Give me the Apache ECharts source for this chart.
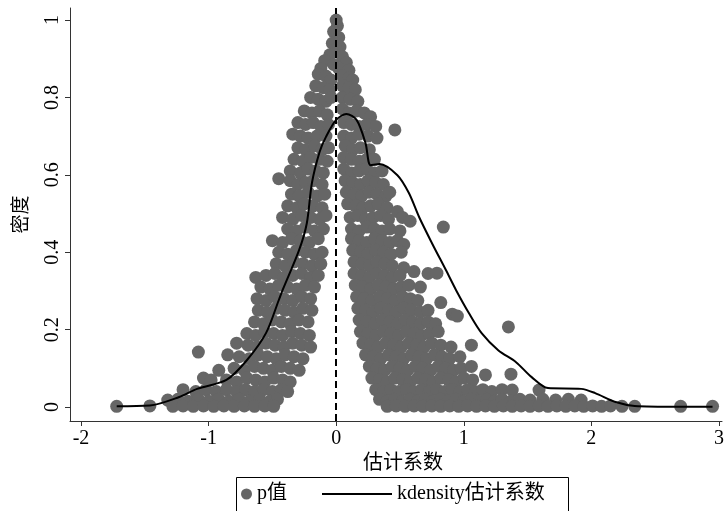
<!DOCTYPE html>
<html>
<head>
<meta charset="utf-8">
<script src="https://cdn.jsdelivr.net/npm/echarts@6/dist/echarts.min.js"></script>
<style>
  html, body { margin: 0; padding: 0; background: #fff; }
  #chart { width: 727px; height: 511px; }
</style>
</head>
<body>
<div id="chart"></div>
<script>
// 刻度
var xTicks = [-2, -1, 0, 1, 2, 3];
var yTicks = [0, 0.2, 0.4, 0.6, 0.8, 1];

// kdensity 估计系数 曲线
var densityX = [-1.72, -1.46, -1.23, -1.09, -0.86, -0.70, -0.55, -0.45, -0.42, -0.29, -0.23, -0.19, -0.13, -0.08, 0, 0.08, 0.16, 0.23, 0.27, 0.34, 0.48, 0.57, 0.65, 0.75, 0.86, 0.94, 1.04, 1.14, 1.27, 1.41, 1.53, 1.66, 1.92, 2.03, 2.19, 2.34, 2.68, 2.95];
var densityY = [0.002, 0.004, 0.026, 0.047, 0.070, 0.121, 0.191, 0.276, 0.302, 0.406, 0.475, 0.579, 0.659, 0.698, 0.742, 0.757, 0.742, 0.682, 0.625, 0.628, 0.599, 0.553, 0.491, 0.424, 0.354, 0.302, 0.243, 0.191, 0.147, 0.116, 0.078, 0.049, 0.047, 0.036, 0.013, 0.003, 0.001, 0.001];

// p值: 峰顶
var pointsTop = [
  [0.00,1.00],[0.01,0.985],[-0.02,0.97],[0.02,0.955],[-0.03,0.94],[0.03,0.93],[0.00,0.925],[-0.05,0.91],[0.05,0.905],
  [-0.09,0.895],[0.08,0.89],[-0.02,0.885],[0.02,0.875],[-0.12,0.875],[0.10,0.87]
];

// p值: 左侧 (系数 < 0)
var pointsLeft = [
  [-0.14,0.86],[-0.08,0.855],[-0.04,0.845],
  [-0.16,0.83],[-0.10,0.825],[-0.05,0.82],
  [-0.20,0.80],[-0.14,0.795],[-0.08,0.79],[-0.04,0.80],
  [-0.25,0.765],[-0.19,0.76],[-0.13,0.765],[-0.07,0.755],
  [-0.30,0.735],[-0.24,0.73],[-0.18,0.735],[-0.12,0.725],[-0.06,0.73],
  [-0.34,0.705],[-0.28,0.70],[-0.22,0.695],[-0.15,0.70],[-0.08,0.70],
  [-0.30,0.67],[-0.24,0.665],[-0.17,0.675],[-0.11,0.665],[-0.06,0.67],
  [-0.33,0.64],[-0.26,0.635],[-0.20,0.645],[-0.13,0.64],[-0.07,0.635],
  [-0.36,0.61],[-0.28,0.605],[-0.22,0.615],[-0.16,0.61],[-0.10,0.605],
  [-0.45,0.59],[-0.36,0.585],[-0.30,0.575],[-0.24,0.58],[-0.18,0.585],[-0.11,0.575],
  [-0.35,0.55],[-0.29,0.545],[-0.22,0.555],[-0.15,0.545],[-0.09,0.55],
  [-0.38,0.52],[-0.31,0.515],[-0.25,0.525],[-0.18,0.52],[-0.11,0.515],
  [-0.42,0.49],[-0.34,0.485],[-0.27,0.495],[-0.20,0.49],[-0.13,0.485],[-0.08,0.495],
  [-0.38,0.46],[-0.31,0.455],[-0.24,0.465],[-0.17,0.455],[-0.10,0.46],
  [-0.50,0.43],[-0.42,0.425],[-0.35,0.435],[-0.28,0.43],[-0.21,0.425],[-0.14,0.435],
  [-0.45,0.40],[-0.38,0.395],[-0.31,0.405],[-0.24,0.40],[-0.17,0.395],[-0.11,0.40],
  [-0.47,0.37],[-0.40,0.365],[-0.33,0.375],[-0.26,0.37],[-0.19,0.365],[-0.12,0.37],
  [-0.63,0.335],[-0.55,0.34],[-0.48,0.345],[-0.41,0.335],[-0.34,0.34],[-0.27,0.345],[-0.20,0.335],[-0.14,0.34],
  [-0.59,0.31],[-0.52,0.305],[-0.45,0.315],[-0.38,0.31],[-0.31,0.305],[-0.24,0.315],[-0.17,0.31],
  [-0.62,0.28],[-0.55,0.275],[-0.48,0.285],[-0.41,0.28],[-0.34,0.275],[-0.27,0.285],[-0.20,0.28],
  [-0.61,0.25],[-0.54,0.245],[-0.47,0.255],[-0.40,0.25],[-0.33,0.245],[-0.26,0.255],[-0.19,0.25],
  [-0.64,0.22],[-0.57,0.215],[-0.50,0.225],[-0.43,0.22],[-0.36,0.215],[-0.29,0.225],[-0.22,0.22],
  [-0.70,0.19],[-0.63,0.185],[-0.56,0.195],[-0.49,0.19],[-0.42,0.185],[-0.35,0.195],[-0.28,0.19],[-0.21,0.185],
  [-0.78,0.165],[-0.69,0.16],[-0.62,0.155],[-0.55,0.165],[-0.48,0.16],[-0.41,0.155],[-0.34,0.165],[-0.27,0.16],[-0.20,0.155],
  [-1.08,0.142],[-0.85,0.135],[-0.76,0.13],[-0.68,0.125],[-0.61,0.135],[-0.54,0.13],[-0.47,0.125],[-0.40,0.135],[-0.33,0.13],[-0.26,0.125],
  [-0.92,0.095],[-0.80,0.10],[-0.72,0.095],[-0.64,0.105],[-0.57,0.10],[-0.50,0.095],[-0.43,0.105],[-0.36,0.10],[-0.29,0.095],
  [-1.04,0.075],[-0.98,0.07],[-0.86,0.07],[-0.78,0.065],[-0.70,0.075],[-0.63,0.07],[-0.56,0.065],[-0.49,0.075],[-0.42,0.07],[-0.36,0.065],
  [-1.20,0.045],[-1.10,0.04],[-1.02,0.045],[-0.94,0.04],[-0.86,0.045],[-0.78,0.04],[-0.71,0.045],[-0.64,0.04],[-0.57,0.045],[-0.50,0.04],[-0.43,0.045],[-0.38,0.04],
  [-1.32,0.018],[-1.24,0.02],[-1.16,0.015],[-1.08,0.02],[-1.00,0.015],[-0.92,0.02],[-0.84,0.015],[-0.76,0.02],[-0.68,0.015],[-0.60,0.02],[-0.52,0.015],[-0.46,0.02],
  [-1.72,0.002],[-1.46,0.003],[-1.28,0.002],[-1.20,0.003],[-1.12,0.002],[-1.04,0.003],[-0.96,0.002],[-0.88,0.003],[-0.80,0.002],[-0.72,0.003],[-0.64,0.002],[-0.56,0.003],[-0.49,0.002]
];

// p值: 右侧 (系数 > 0)
var pointsRight = [
  [0.05,0.855],[0.10,0.85],[0.13,0.845],
  [0.05,0.83],[0.10,0.825],[0.15,0.82],
  [0.05,0.80],[0.11,0.795],[0.17,0.79],
  [0.05,0.77],[0.10,0.76],[0.16,0.765],[0.22,0.76],[0.27,0.75],
  [0.06,0.735],[0.12,0.73],[0.18,0.725],[0.24,0.73],[0.31,0.725],[0.46,0.716],
  [0.06,0.70],[0.12,0.695],[0.18,0.705],[0.25,0.70],[0.32,0.695],
  [0.07,0.675],[0.13,0.665],[0.19,0.67],[0.26,0.665],
  [0.06,0.645],[0.12,0.64],[0.18,0.635],[0.24,0.64],[0.30,0.64],
  [0.06,0.615],[0.12,0.605],[0.18,0.61],[0.24,0.615],[0.30,0.605],[0.36,0.61],
  [0.07,0.585],[0.13,0.58],[0.19,0.575],[0.25,0.585],[0.31,0.58],[0.37,0.575],
  [0.08,0.555],[0.14,0.55],[0.20,0.545],[0.26,0.555],[0.32,0.55],[0.39,0.545],[0.42,0.555],
  [0.09,0.525],[0.15,0.52],[0.21,0.515],[0.27,0.52],[0.33,0.525],[0.40,0.515],[0.48,0.505],
  [0.11,0.49],[0.17,0.495],[0.23,0.485],[0.29,0.49],[0.35,0.495],[0.41,0.485],[0.52,0.49],[0.58,0.48],[0.84,0.465],
  [0.12,0.46],[0.18,0.455],[0.24,0.465],[0.30,0.46],[0.36,0.455],[0.42,0.46],[0.50,0.455],
  [0.12,0.435],[0.18,0.43],[0.24,0.425],[0.30,0.435],[0.36,0.43],[0.42,0.425],[0.48,0.43],[0.53,0.42],
  [0.13,0.405],[0.19,0.40],[0.25,0.395],[0.31,0.405],[0.37,0.40],[0.43,0.395],[0.51,0.40],
  [0.14,0.375],[0.20,0.37],[0.26,0.365],[0.32,0.375],[0.38,0.37],[0.44,0.365],[0.53,0.36],
  [0.14,0.345],[0.20,0.34],[0.26,0.335],[0.32,0.345],[0.38,0.34],[0.44,0.335],[0.50,0.34],[0.61,0.35],[0.72,0.345],[0.79,0.346],
  [0.15,0.315],[0.21,0.31],[0.27,0.305],[0.33,0.315],[0.39,0.31],[0.45,0.305],[0.51,0.31],[0.57,0.315],[0.66,0.31],
  [0.16,0.285],[0.22,0.28],[0.28,0.275],[0.34,0.285],[0.40,0.28],[0.46,0.275],[0.52,0.285],[0.58,0.28],[0.64,0.275],[0.82,0.27],
  [0.17,0.255],[0.23,0.25],[0.29,0.245],[0.35,0.255],[0.41,0.25],[0.47,0.245],[0.53,0.255],[0.59,0.25],[0.66,0.245],[0.72,0.25],[0.91,0.24],[0.95,0.235],
  [0.18,0.225],[0.24,0.22],[0.30,0.215],[0.36,0.225],[0.42,0.22],[0.48,0.215],[0.54,0.225],[0.60,0.22],[0.66,0.215],[0.72,0.22],[0.78,0.215],
  [0.19,0.195],[0.25,0.19],[0.31,0.185],[0.37,0.195],[0.43,0.19],[0.49,0.185],[0.55,0.195],[0.61,0.19],[0.67,0.185],[0.73,0.19],[0.80,0.195],[1.35,0.207],
  [0.21,0.165],[0.27,0.16],[0.33,0.155],[0.39,0.165],[0.45,0.16],[0.51,0.155],[0.57,0.165],[0.63,0.16],[0.69,0.155],[0.75,0.165],[0.82,0.16],[0.90,0.155],[1.06,0.16],
  [0.23,0.135],[0.29,0.13],[0.35,0.125],[0.41,0.135],[0.47,0.13],[0.53,0.125],[0.59,0.135],[0.65,0.13],[0.71,0.125],[0.77,0.135],[0.83,0.13],[0.89,0.125],[0.97,0.13],
  [0.26,0.105],[0.32,0.10],[0.38,0.095],[0.44,0.105],[0.50,0.10],[0.56,0.095],[0.62,0.105],[0.68,0.10],[0.74,0.095],[0.80,0.105],[0.86,0.10],[0.92,0.095],[0.98,0.10],[1.06,0.105],
  [0.28,0.075],[0.34,0.07],[0.40,0.065],[0.46,0.075],[0.52,0.07],[0.58,0.065],[0.64,0.075],[0.70,0.07],[0.76,0.065],[0.82,0.075],[0.88,0.07],[0.94,0.065],[1.00,0.075],[1.07,0.07],[1.17,0.083],[1.37,0.085],
  [0.31,0.045],[0.37,0.04],[0.43,0.045],[0.49,0.04],[0.55,0.045],[0.61,0.04],[0.67,0.045],[0.73,0.04],[0.79,0.045],[0.85,0.04],[0.91,0.045],[0.97,0.04],[1.03,0.045],[1.09,0.04],[1.15,0.045],[1.22,0.04],[1.30,0.045],[1.38,0.044],[1.59,0.044],
  [0.34,0.02],[0.40,0.015],[0.46,0.02],[0.52,0.015],[0.58,0.02],[0.64,0.015],[0.70,0.02],[0.76,0.015],[0.82,0.02],[0.88,0.015],[0.94,0.02],[1.00,0.015],[1.06,0.02],[1.12,0.015],[1.18,0.02],[1.24,0.015],[1.30,0.02],[1.37,0.015],[1.44,0.02],[1.52,0.018],[1.62,0.02],[1.72,0.018],[1.82,0.02],[1.92,0.018],
  [0.40,0.002],[0.47,0.003],[0.54,0.002],[0.61,0.003],[0.68,0.002],[0.75,0.003],[0.82,0.002],[0.89,0.003],[0.96,0.002],[1.03,0.003],[1.10,0.002],[1.17,0.003],[1.24,0.002],[1.31,0.003],[1.38,0.002],[1.45,0.003],[1.52,0.002],[1.59,0.003],[1.66,0.002],[1.73,0.003],[1.80,0.002],[1.87,0.003],[1.94,0.002],[2.01,0.003],[2.08,0.002],[2.15,0.003],[2.24,0.002],[2.34,0.002],[2.70,0.002],[2.95,0.002]
];

var fontFam = "'Liberation Serif', 'Noto Sans CJK SC', serif";
var pointColor = '#666666';

var myChart = echarts.init(document.getElementById('chart'), null, { renderer: 'canvas' });

var densityData = densityX.map(function(x, i){ return [x, densityY[i]]; });
var scatterData = pointsTop.concat(pointsLeft, pointsRight);

var option = {
    animation: false,
    backgroundColor: '#fff',
    textStyle: { fontFamily: fontFam },
    grid: { left: 70, right: 5, top: 8, bottom: 90 },
    legend: [
        {
            data: ['p值'],
            left: 241, top: 484,
            padding: 0,
            itemWidth: 11, itemHeight: 11,
            textStyle: { fontFamily: fontFam, fontSize: 20, color: '#000' }
        },
        {
            data: [{ name: 'kdensity估计系数', icon: 'rect' }],
            left: 322, top: 484,
            padding: 0,
            itemWidth: 70, itemHeight: 2,
            itemStyle: { color: '#000' },
            textStyle: { fontFamily: fontFam, fontSize: 20, color: '#000' }
        }
    ],
    graphic: [{
        type: 'rect',
        shape: { x: 236.5, y: 477.5, width: 332, height: 45 },
        style: { fill: 'none', stroke: '#000', lineWidth: 1 },
        silent: true
    }],
    xAxis: {
        type: 'value',
        min: -2.086, max: 3.024,
        name: '估计系数',
        nameLocation: 'middle',
        nameGap: 30,
        nameTextStyle: { fontFamily: fontFam, fontSize: 20, color: '#000', padding: [0, 0, 0, 14] },
        axisLine: { onZero: false, lineStyle: { color: '#333', width: 1 } },
        axisTick: { show: true, length: 5, customValues: xTicks, lineStyle: { color: '#333' } },
        axisLabel: { customValues: xTicks, margin: 8, fontFamily: fontFam, fontSize: 20, color: '#000' },
        splitLine: { show: false }
    },
    yAxis: {
        type: 'value',
        min: -0.036, max: 1.031,
        name: '密度',
        nameLocation: 'middle',
        nameGap: 38,
        nameRotate: 90,
        nameTextStyle: { fontFamily: fontFam, fontSize: 19, color: '#000' },
        axisLine: { show: true, onZero: false, lineStyle: { color: '#333', width: 1 } },
        axisTick: { show: true, length: 5, customValues: yTicks, lineStyle: { color: '#333' } },
        axisLabel: { customValues: yTicks, rotate: 90, margin: 7, fontFamily: fontFam, fontSize: 20, color: '#000' },
        splitLine: { show: false }
    },
    series: [
        {
            name: 'p值',
            type: 'scatter',
            data: scatterData,
            symbol: 'circle',
            symbolSize: 13,
            itemStyle: { color: pointColor, opacity: 1 },
            z: 2
        },
        {
            name: 'kdensity估计系数',
            type: 'line',
            data: densityData,
            symbol: 'none',
            smooth: 0.3,
            lineStyle: { color: '#000', width: 2 },
            itemStyle: { color: '#000' },
            z: 4,
            markLine: {
                silent: true,
                symbol: 'none',
                label: { show: false },
                lineStyle: { color: '#000', type: [7, 4], width: 2 },
                data: [{ xAxis: 0 }]
            }
        }
    ]
};
myChart.setOption(option);
</script>
</body>
</html>
